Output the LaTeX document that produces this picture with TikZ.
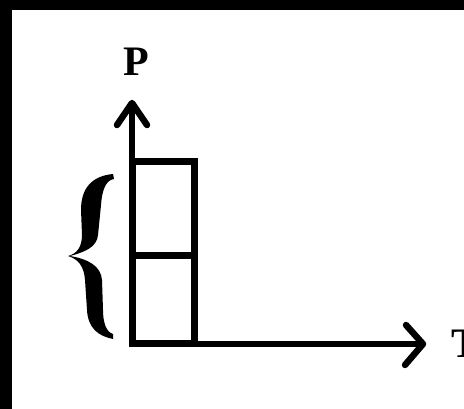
\documentclass[tikz,border=0pt]{standalone}
\usepackage{fontspec}
\setmainfont{Liberation Serif}
\usetikzlibrary{calc}
\begin{document}
\begin{tikzpicture}[x=1pt,y=-1pt,
  axisline/.style={line width=6.5pt},
  barb/.style={line width=6.5pt,line cap=round,line join=round},
  boxline/.style={line width=7pt},
  axislabel/.style={font=\fontsize{42}{42}\selectfont\bfseries,inner sep=0pt}]
\useasboundingbox (0,0) rectangle (464,409);
\fill[black] (0,0) rectangle (464,409);
\fill[white] (12,10) rectangle (464,409);
% coordinates
\coordinate (O) at (132,344);
\coordinate (Ptip) at (132,103);
\coordinate (Ttip) at (423,344);
\coordinate (midL) at (132,255.5);
\coordinate (midR) at (194.5,255.5);
\coordinate (topR) at (194.5,162);
% boxes
\draw[boxline] (O) rectangle (topR);
\draw[boxline] (midL) -- (midR);
% axes
\draw[axisline] (O) -- (Ptip);
\draw[axisline] (O) -- (Ttip);
\draw[barb] ([shift={(-15,22)}]Ptip) -- (Ptip) -- ([shift={(15,22)}]Ptip);
\draw[barb] ([shift={(-17,-19)}]Ttip) -- (Ttip) -- ([shift={(-18,21)}]Ttip);
% labels
\node[axislabel] (P) at (136.5,62) {P};
\node[axislabel,anchor=west] (T) at (451,344) {T};
% brace
\fill[black] (113,174) .. controls (92,176) and (81,188) .. (81,210)
  -- (82,235) .. controls (82,248) and (76,254) .. (68,256)
  .. controls (78,259) and (84,266) .. (85,280)
  -- (87,310) .. controls (88,328) and (98,336) .. (113,339)
  -- (113,334) .. controls (106,332) and (103,322) .. (103,310)
  -- (102,280) .. controls (101,266) and (88,259) .. (70,256)
  .. controls (85,252) and (97,247) .. (98,235)
  -- (101,205) .. controls (102,190) and (106,180) .. (114,179) -- cycle;
\end{tikzpicture}
\end{document}
